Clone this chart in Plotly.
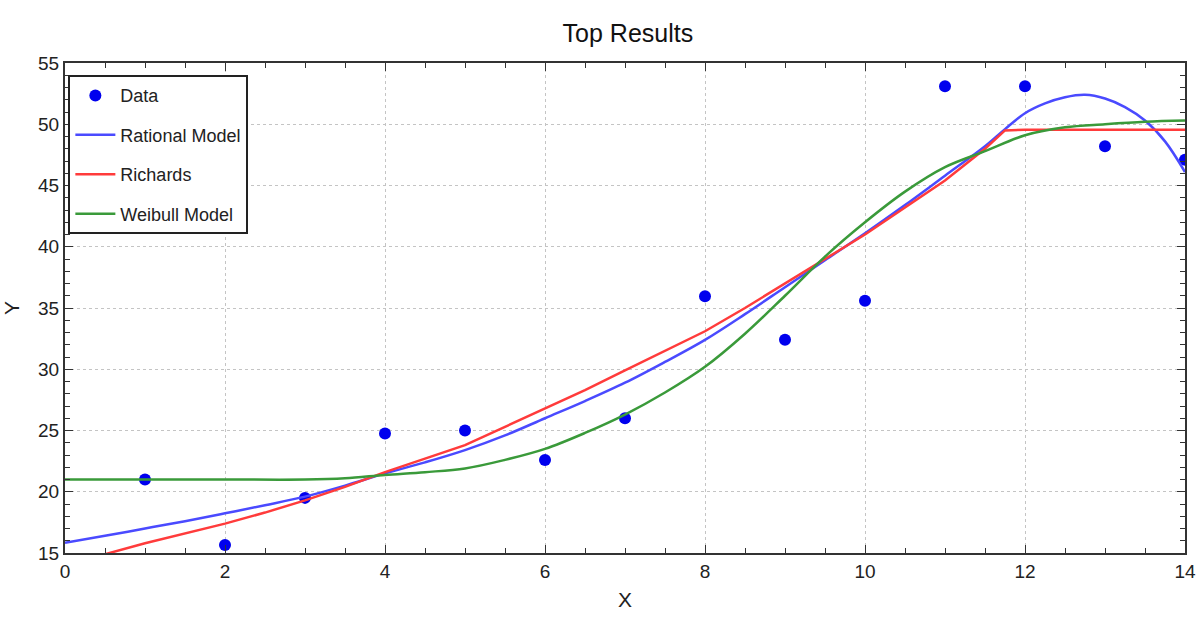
import plotly.graph_objects as go

# Observed data
data_x = [1, 2, 3, 4, 5, 6, 7, 8, 9, 10, 11, 12, 13, 14]
data_y = [21.0, 15.65, 19.5, 24.75, 25.0, 22.6, 26.0, 35.95, 32.4, 35.6, 53.1, 53.1, 48.2, 47.1]

# Rational model
rat_x = [0, 0.5, 1, 1.5, 2, 2.5, 3, 3.5, 4, 4.5, 5, 5.5, 6, 6.5, 7, 7.5, 8, 8.5, 9, 9.5,
         10, 10.5, 11, 11.5, 11.75, 12, 12.25, 12.5, 12.75, 13, 13.25, 13.5, 13.75, 14]
rat_y = [15.84, 16.4, 17.0, 17.6, 18.24, 18.9, 19.6, 20.5, 21.5, 22.4, 23.4, 24.6, 26.0, 27.4,
         28.9, 30.6, 32.4, 34.5, 36.7, 38.9, 41.1, 43.4, 45.8, 48.2, 49.6, 50.9, 51.7, 52.2,
         52.4, 52.1, 51.4, 50.3, 48.6, 46.1]

# Richards model
ric_x = [0, 0.5, 1, 1.5, 2, 2.5, 3, 3.5, 4, 4.5, 5, 5.5, 6, 6.5, 7, 7.5, 8, 8.5, 9, 9.5,
         10, 10.5, 11, 11.5, 11.75, 12, 12.5, 13, 13.5, 14]
ric_y = [14.1, 14.9, 15.8, 16.6, 17.4, 18.3, 19.3, 20.4, 21.6, 22.7, 23.8, 25.3, 26.8, 28.3,
         29.9, 31.5, 33.1, 35.0, 37.0, 39.0, 41.0, 43.2, 45.4, 48.0, 49.5, 49.55, 49.55,
         49.55, 49.55, 49.55]

# Weibull model
wei_x = [0, 1, 2, 3, 3.5, 4, 4.5, 5, 5.5, 6, 6.5, 7, 7.5, 8, 8.5, 9, 9.5, 10, 10.5, 11,
         11.5, 12, 12.5, 13, 13.5, 14]
wei_y = [21.0, 21.0, 21.0, 21.0, 21.1, 21.37, 21.6, 21.9, 22.6, 23.5, 24.8, 26.3, 28.1, 30.2,
         32.9, 36.0, 39.2, 42.0, 44.5, 46.5, 47.8, 49.1, 49.75, 50.0, 50.2, 50.3]

FONT = "Liberation Sans, Arial, sans-serif"

fig = go.Figure()
fig.add_trace(go.Scatter(x=data_x, y=data_y, mode="markers", name="Data",
                         legendgroup="a",
                         marker=dict(color="#0000ee", size=12, line=dict(width=0))))
fig.add_trace(go.Scatter(x=rat_x, y=rat_y, mode="lines", name="Rational Model",
                         legendgroup="b", line=dict(color="#4a4aff", width=2.5, shape="spline")))
fig.add_trace(go.Scatter(x=ric_x, y=ric_y, mode="lines", name="Richards",
                         legendgroup="c", line=dict(color="#ff3b3b", width=2.5)))
fig.add_trace(go.Scatter(x=wei_x, y=wei_y, mode="lines", name="Weibull Model",
                         legendgroup="d", line=dict(color="#3a9a3a", width=2.5, shape="spline")))

axis_common = dict(
    showline=True, linecolor="#333333", linewidth=2, mirror="ticks",
    ticks="inside", ticklen=8, tickcolor="#333333", tickwidth=1,
    showgrid=True, gridcolor="#c4c4c4", griddash="dot", gridwidth=1,
    zeroline=False, automargin=False,
    tickfont=dict(family=FONT, size=19, color="#222222"),
)

fig.update_layout(
    width=1196, height=623,
    paper_bgcolor="white", plot_bgcolor="white",
    margin=dict(l=65, r=11, t=63, b=70),
    title=dict(text="Top Results", x=0.525, xanchor="center", y=0.947, yanchor="middle",
               font=dict(family=FONT, size=25, color="#111111")),
    xaxis=dict(range=[0, 14], dtick=2, tick0=0,
               minor=dict(dtick=0.5, ticks="inside", ticklen=5, tickcolor="#333333", showgrid=False),
               title=dict(text="X", font=dict(family=FONT, size=21, color="#222222"), standoff=12),
               **axis_common),
    yaxis=dict(range=[15, 55], dtick=5, tick0=15,
               minor=dict(dtick=1, ticks="inside", ticklen=5, tickcolor="#333333", showgrid=False),
               title=dict(text="Y", font=dict(family=FONT, size=21, color="#222222"), standoff=13),
               **axis_common),
    legend=dict(x=0.003, y=0.975, xanchor="left", yanchor="top",
                bgcolor="white", bordercolor="#222222", borderwidth=2,
                font=dict(family=FONT, size=18, color="#222222"),
                traceorder="grouped", tracegroupgap=13, itemwidth=40),
    showlegend=True,
)

fig.write_html("out.html", config={"displayModeBar": False},
               post_script="document.body.style.margin='0';document.body.style.overflow='hidden';")
